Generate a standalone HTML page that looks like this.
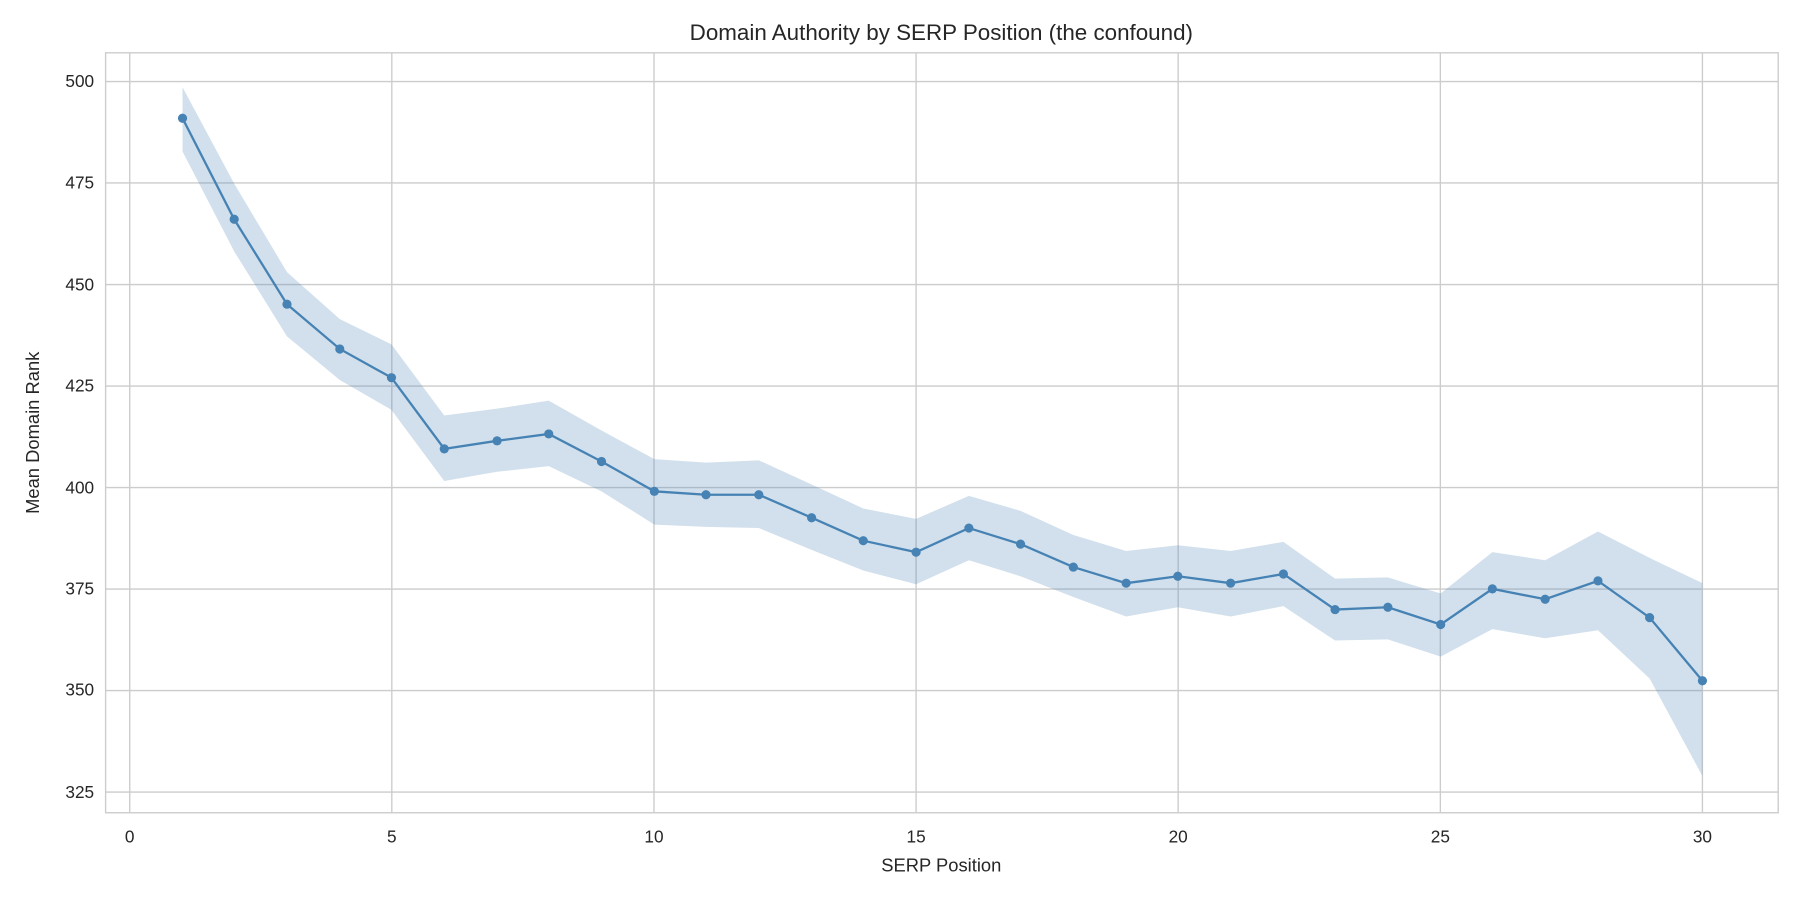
<!DOCTYPE html>
<html><head><meta charset="utf-8"><style>body{margin:0;background:#fff}svg{display:block}text{font-family:"Liberation Sans","DejaVu Sans",sans-serif;fill:#262626}</style></head>
<body>
<svg width="1800" height="900" viewBox="0 0 1568 784" xmlns="http://www.w3.org/2000/svg">
<rect width="1568" height="784" fill="#fff"/>
<g stroke="#cccccc" stroke-width="1.2">
<line x1="113" y1="46" x2="113" y2="708"/><line x1="341.3" y1="46" x2="341.3" y2="708"/><line x1="569.7" y1="46" x2="569.7" y2="708"/><line x1="798" y1="46" x2="798" y2="708"/><line x1="1026.3" y1="46" x2="1026.3" y2="708"/><line x1="1254.7" y1="46" x2="1254.7" y2="708"/><line x1="1483" y1="46" x2="1483" y2="708"/>
<line x1="92" y1="71" x2="1549" y2="71"/><line x1="92" y1="159.4" x2="1549" y2="159.4"/><line x1="92" y1="247.9" x2="1549" y2="247.9"/><line x1="92" y1="336.3" x2="1549" y2="336.3"/><line x1="92" y1="424.7" x2="1549" y2="424.7"/><line x1="92" y1="513.1" x2="1549" y2="513.1"/><line x1="92" y1="601.6" x2="1549" y2="601.6"/><line x1="92" y1="690" x2="1549" y2="690"/>
</g>
<rect x="92" y="46" width="1457" height="662" fill="none" stroke="#cccccc" stroke-width="1.2"/>
<polygon fill="#4682b4" fill-opacity="0.25" points="159,76 204,160 250,237 296,278 341,300 387,362 433,356 478,349 524,375 570,400 615,403 661,401 707,422 752,443 798,452 844,432 889,445 935,466 981,480 1026,475 1072,480 1118,472 1163,504 1209,503 1255,517 1300,481 1346,488 1392,463 1437,486 1483,508 1483,676 1437,591 1392,549 1346,556 1300,548 1255,572 1209,557 1163,558 1118,528 1072,537 1026,529 981,537 935,520 889,502 844,488 798,509 752,497 707,479 661,460 615,459 570,457 524,428 478,406 433,411 387,419 341,357 296,331 250,293 204,219 159,132"/>
<polyline fill="none" stroke="#4682b4" stroke-width="2" points="159,103 204,191 250,265 296,304 341,329 387,391 433,384 478,378 524,402 570,428 615,431 661,431 707,451 752,471 798,481 844,460 889,474 935,494 981,508 1026,502 1072,508 1118,500 1163,531 1209,529 1255,544 1300,513 1346,522 1392,506 1437,538 1483,593"/>
<g fill="#4682b4">
<circle cx="159" cy="103" r="4"/><circle cx="204" cy="191" r="4"/><circle cx="250" cy="265" r="4"/><circle cx="296" cy="304" r="4"/><circle cx="341" cy="329" r="4"/><circle cx="387" cy="391" r="4"/><circle cx="433" cy="384" r="4"/><circle cx="478" cy="378" r="4"/><circle cx="524" cy="402" r="4"/><circle cx="570" cy="428" r="4"/><circle cx="615" cy="431" r="4"/><circle cx="661" cy="431" r="4"/><circle cx="707" cy="451" r="4"/><circle cx="752" cy="471" r="4"/><circle cx="798" cy="481" r="4"/><circle cx="844" cy="460" r="4"/><circle cx="889" cy="474" r="4"/><circle cx="935" cy="494" r="4"/><circle cx="981" cy="508" r="4"/><circle cx="1026" cy="502" r="4"/><circle cx="1072" cy="508" r="4"/><circle cx="1118" cy="500" r="4"/><circle cx="1163" cy="531" r="4"/><circle cx="1209" cy="529" r="4"/><circle cx="1255" cy="544" r="4"/><circle cx="1300" cy="513" r="4"/><circle cx="1346" cy="522" r="4"/><circle cx="1392" cy="506" r="4"/><circle cx="1437" cy="538" r="4"/><circle cx="1483" cy="593" r="4"/>
</g>
<g font-size="15" text-anchor="middle">
<text x="113" y="734">0</text><text x="341.3" y="734">5</text><text x="569.7" y="734">10</text><text x="798" y="734">15</text><text x="1026.3" y="734">20</text><text x="1254.7" y="734">25</text><text x="1483" y="734">30</text>
</g>
<g font-size="15" text-anchor="end">
<text x="82" y="76">500</text><text x="82" y="164">475</text><text x="82" y="253">450</text><text x="82" y="341">425</text><text x="82" y="430">400</text><text x="82" y="518">375</text><text x="82" y="606">350</text><text x="82" y="695">325</text>
</g>
<text x="820" y="759" font-size="16" text-anchor="middle">SERP Position</text>
<text transform="translate(34,377) rotate(-90)" font-size="16" text-anchor="middle">Mean Domain Rank</text>
<text x="820" y="35" font-size="19.5" text-anchor="middle">Domain Authority by SERP Position (the confound)</text>
</svg>
</body></html>
